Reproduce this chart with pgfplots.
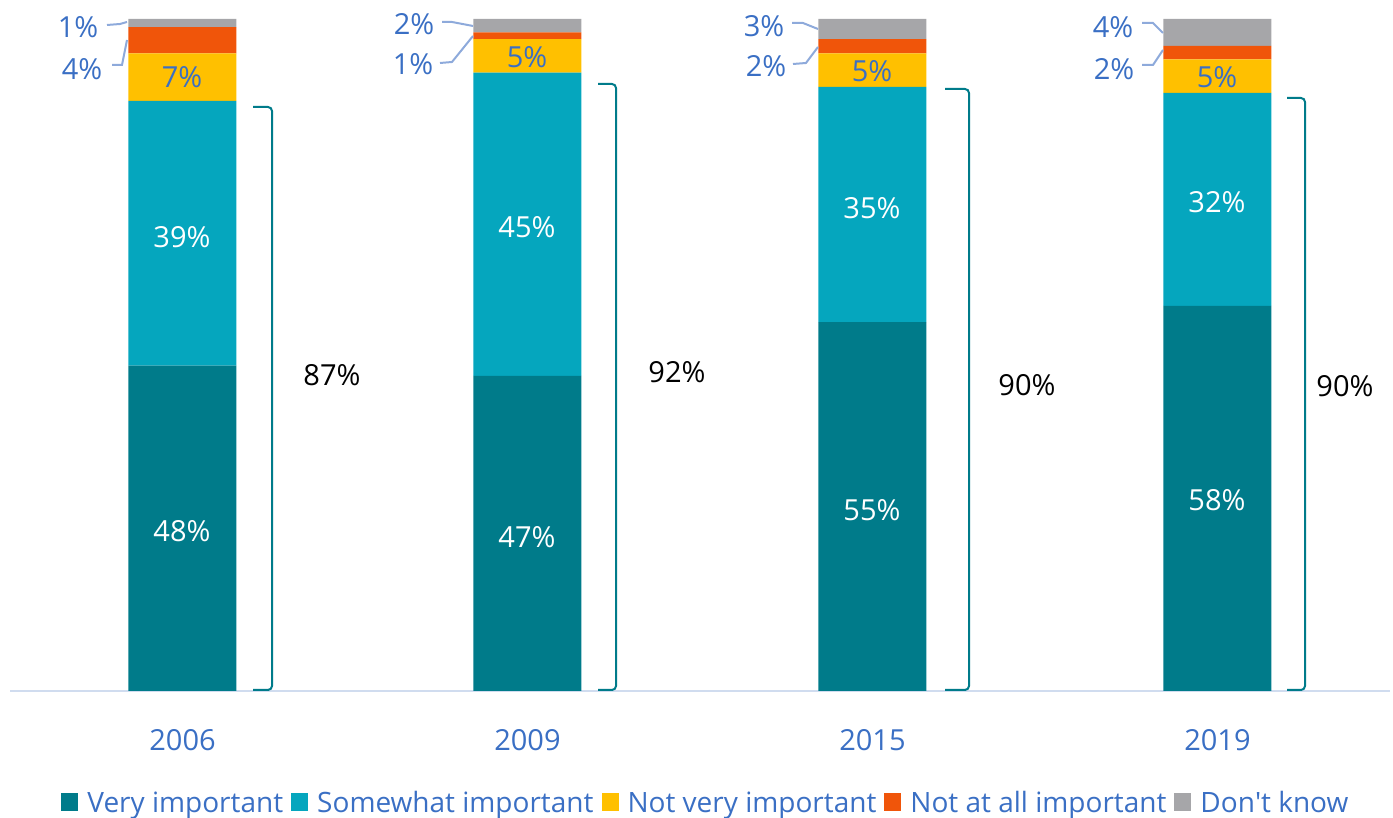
\documentclass[border=0pt]{standalone}
\usepackage{pgfplots}
\pgfplotsset{compat=1.18}
\usepackage{fontspec}
\setmainfont{Open Sans}
\definecolor{vi}{HTML}{007B8A}
\definecolor{si}{HTML}{05A6BE}
\definecolor{nv}{HTML}{FFC000}
\definecolor{na}{HTML}{F0550A}
\definecolor{dk}{HTML}{A6A6A9}
\definecolor{lab}{HTML}{3A6FC4}
\definecolor{lead}{HTML}{8EAADB}
\definecolor{base}{HTML}{D0DCEF}
\newcommand\fs{\fontsize{29}{34}\selectfont}
\newcommand\fl{\fontsize{28}{32}\selectfont}
\begin{document}
\begin{tikzpicture}[x=1pt,y=1pt]
\useasboundingbox (0,0) rectangle (1393,818);
\begin{axis}[
  at={(10pt,127pt)}, anchor=south west,
  scale only axis, width=1380pt, height=672pt,
  xmin=-0.5, xmax=3.5, ymin=0, ymax=100,
  ybar stacked, bar width=108pt,
  axis y line=none, axis x line*=bottom,
  x axis line style={draw=base, line width=1.5pt, -},
  xtick={0,1,2,3}, xticklabels={2006,2009,2015,2019},
  major tick length=0pt, xtick style={draw=none},
  xticklabel style={text=lab, font=\fs, anchor=center, yshift=-49pt},
  ytick=\empty,
  legend style={at={(0.5043,-0.1667)}, anchor=center, draw=none, fill=none,
    font=\fl, text=lab, legend columns=-1,
    /tikz/every odd column/.append style={column sep=7pt},
    /tikz/every even column/.append style={column sep=6pt}},
  legend image code/.code={\fill[#1] (0pt,-8pt) rectangle (17pt,10pt);},
]
\addplot[fill=vi, draw=none] coordinates {(0,48.4) (1,46.9) (2,54.9) (3,57.3)};
\addplot[fill=si, draw=none] coordinates {(0,39.4) (1,45.1) (2,35.0) (3,31.7)};
\addplot[fill=nv, draw=none] coordinates {(0,7.1) (1,5.0) (2,5.0) (3,5.0)};
\addplot[fill=na, draw=none] coordinates {(0,3.9) (1,1.0) (2,2.1) (3,2.0)};
\addplot[fill=dk, draw=none] coordinates {(0,1.2) (1,2.0) (2,3.0) (3,4.0)};
\legend{Very important, Somewhat important, Not very important, Not at all important, Don\textquotesingle t know}
\end{axis}
\begin{scope}[x=1pt, y=-1pt, shift={(0pt,818pt)}]
  % in-bar labels
  \foreach \x/\y/\t in {182/531/48\%, 182/237/39\%, 527/537/47\%, 527/227/45\%, 872/510/55\%, 872/208/35\%, 1217/500/58\%, 1217/202/32\%}
    \node[text=white, font=\fs] at (\x,\y) {\t};
  \foreach \x/\y/\t in {182/77/7\%, 527/57/5\%, 872/71/5\%, 1217/77/5\%}
    \node[text=lab, font=\fs] at (\x,\y) {\t};
  % leader labels
  \foreach \x/\y/\t in {78/27/1\%, 82/69/4\%, 414/24/2\%, 413/64/1\%, 764/26/3\%, 766/66/2\%, 1113/27/4\%, 1114/69/2\%}
    \node[text=lab, font=\fs] at (\x,\y) {\t};
  \begin{scope}[draw=lead, line width=2pt]
    \draw (107,25) -- (120,24) -- (127,22);
    \draw (112,65) -- (122,65) -- (127,40);
    \draw (442,22) -- (452,22) -- (473,26);
    \draw (440,63) -- (452,62) -- (473,36);
    \draw (792,23) -- (803,23) -- (818,29);
    \draw (793,64) -- (806,63) -- (818,47);
    \draw (1142,23) -- (1153,23) -- (1163,33);
    \draw (1142,65) -- (1153,65) -- (1163,50);
  \end{scope}
  % brackets
  \begin{scope}[draw=vi, line width=2pt, rounded corners=4pt]
    \draw (253,107) -- (272,107) -- (272,690) -- (253,690);
    \draw (598,84) -- (616,84) -- (616,690) -- (598,690);
    \draw (945,89) -- (969,89) -- (969,690) -- (945,690);
    \draw (1287,98) -- (1305,98) -- (1305,690) -- (1287,690);
  \end{scope}
  \foreach \x/\y/\t in {332/375/87\%, 677/372/92\%, 1027/385/90\%, 1345/386/90\%}
    \node[text=black, font=\fs] at (\x,\y) {\t};
\end{scope}
\end{tikzpicture}
\end{document}
